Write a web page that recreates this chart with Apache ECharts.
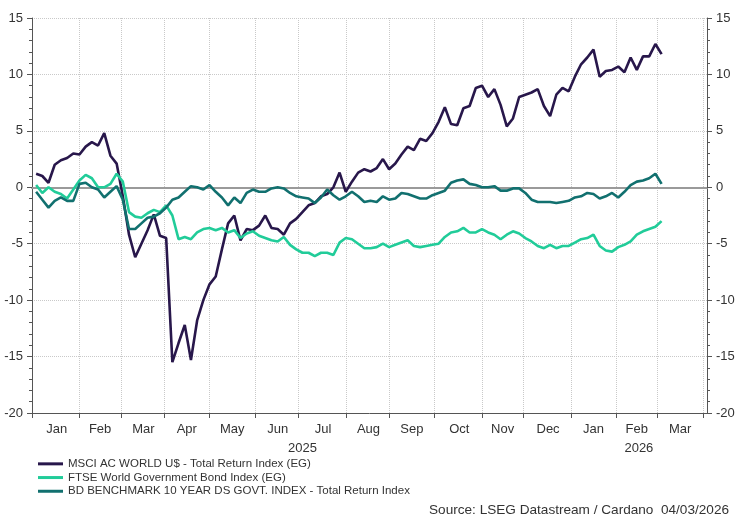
<!DOCTYPE html>
<html>
<head>
<meta charset="utf-8">
<title>MSCI ACWI vs government bonds, 2025-2026</title>
<script src="https://cdn.jsdelivr.net/npm/echarts@6/dist/echarts.min.js"></script>
<style>
  html, body { margin: 0; padding: 0; background: #fff; }
  #chart { width: 738px; height: 516px; }
</style>
</head>
<body>
<div id="chart"></div>
<script>
// x axis: every weekday from 1 Jan 2025 to 3 Apr 2026
const axisStart = '2025-01-01';
const axisEnd = '2026-04-03';
// readings were taken every 3rd weekday, starting at weekday no. 2 (3 Jan 2025)
const sampleStart = 2;
const sampleStep = 3;

const monthNames = ['Jan', 'Feb', 'Mar', 'Apr', 'May', 'Jun', 'Jul', 'Aug', 'Sep', 'Oct', 'Nov', 'Dec'];
const seriesNames = [
    'MSCI AC WORLD U$ - Total Return Index (EG)',
    'FTSE World Government Bond Index (EG)',
    'BD BENCHMARK 10 YEAR DS GOVT. INDEX - Total Return Index'
];
const seriesColors = ['#28174b', '#21cc99', '#11706f'];
const sourceText = 'Source: LSEG Datastream / Cardano  04/03/2026';

// % change since start of 2025
const msci = [
    1.2, 1.0, 0.4, 2.0, 2.4, 2.6, 3.0, 2.9, 3.6, 4.0,
    3.7, 4.8, 2.8, 2.1, -0.8, -4.2, -6.2, -5.0, -3.8, -2.4,
    -4.3, -4.5, -15.5, -13.8, -12.2, -15.3, -11.8, -10.0, -8.6, -7.9,
    -5.5, -3.2, -2.5, -4.7, -3.7, -3.8, -3.4, -2.5, -3.6, -3.7,
    -4.2, -3.2, -2.8, -2.2, -1.6, -1.4, -0.8, -0.6, 0.0, 1.3,
    -0.4, 0.5, 1.3, 1.6, 1.4, 1.7, 2.5, 1.6, 2.1, 2.9,
    3.6, 3.3, 4.3, 4.1, 4.8, 5.8, 7.1, 5.6, 5.5, 7.0,
    7.2, 8.8, 9.0, 8.0, 8.7, 7.3, 5.4, 6.1, 8.0, 8.2,
    8.4, 8.7, 7.2, 6.3, 8.2, 8.8, 8.5, 9.8, 10.9, 11.5,
    12.2, 9.8, 10.3, 10.4, 10.7, 10.2, 11.5, 10.4, 11.6, 11.6,
    12.7, 11.8
];
const ftse = [
    0.2, -0.5, 0.0, -0.4, -0.6, -1.0, -0.2, 0.6, 1.1, 0.8,
    0.0, 0.0, 0.3, 1.2, 0.5, -2.2, -2.6, -2.7, -2.3, -2.0,
    -2.2, -1.6, -2.5, -4.6, -4.4, -4.6, -4.0, -3.7, -3.6, -3.8,
    -3.6, -4.0, -3.8, -4.5, -4.1, -3.9, -4.3, -4.5, -4.7, -4.8,
    -4.4, -5.1, -5.5, -5.8, -5.8, -6.1, -5.8, -5.8, -6.0, -4.9,
    -4.5, -4.6, -5.0, -5.4, -5.4, -5.3, -5.0, -5.3, -5.1, -4.9,
    -4.7, -5.2, -5.3, -5.2, -5.1, -5.0, -4.4, -4.0, -3.9, -3.6,
    -4.0, -4.0, -3.7, -4.0, -4.2, -4.6, -4.2, -3.9, -4.1, -4.5,
    -4.8, -5.2, -5.4, -5.1, -5.4, -5.2, -5.2, -4.9, -4.6, -4.5,
    -4.2, -5.2, -5.6, -5.7, -5.3, -5.1, -4.8, -4.2, -3.9, -3.7,
    -3.5, -3.0
];
const bd = [
    -0.4, -1.1, -1.8, -1.2, -0.9, -1.2, -1.2, 0.3, 0.4, 0.0,
    -0.2, -0.9, -0.4, 0.1, -1.1, -3.7, -3.7, -3.2, -2.7, -2.6,
    -2.3, -1.8, -1.1, -0.9, -0.4, 0.1, 0.0, -0.2, 0.2, -0.4,
    -0.9, -1.6, -0.9, -1.4, -0.5, -0.2, -0.4, -0.4, -0.1, 0.0,
    -0.1, -0.5, -0.8, -0.9, -1.0, -1.4, -0.9, -0.2, -0.7, -1.1,
    -0.8, -0.4, -0.8, -1.3, -1.2, -1.3, -0.8, -1.1, -1.0, -0.5,
    -0.6, -0.8, -1.0, -1.0, -0.7, -0.5, -0.3, 0.4, 0.6, 0.7,
    0.3, 0.2, 0.0, 0.0, 0.1, -0.3, -0.3, -0.1, -0.1, -0.5,
    -1.1, -1.3, -1.3, -1.3, -1.4, -1.3, -1.2, -0.9, -0.8, -0.5,
    -0.6, -1.0, -0.8, -0.5, -0.9, -0.4, 0.2, 0.5, 0.6, 0.8,
    1.2, 0.3
];

// build the weekday calendar for the category axis
const days = [];
for (let d = new Date(axisStart + 'T00:00:00Z'); d <= new Date(axisEnd + 'T00:00:00Z'); d.setUTCDate(d.getUTCDate() + 1)) {
    const wd = d.getUTCDay();
    if (wd !== 0 && wd !== 6) days.push(d.toISOString().slice(0, 10));
}

// month boundaries (gridlines, ticks) and mid-month label slots
const monthStarts = [];
days.forEach((s, i) => {
    if (i === 0 || s.slice(0, 7) !== days[i - 1].slice(0, 7)) monthStarts.push(i);
});
const startSet = new Set(monthStarts);
const labelSet = new Set();
for (let m = 0; m < monthStarts.length - 1; m++) {
    labelSet.add(Math.round((monthStarts[m] + monthStarts[m + 1]) / 2));
}
// year labels centred on each year's stretch of the axis
const yearSet = new Set();
const firstOf2026 = days.indexOf('2026-01-01');
yearSet.add(Math.round(firstOf2026 / 2));
yearSet.add(Math.round((firstOf2026 + days.length - 1) / 2));

const toPoints = vals => vals.map((v, k) => [days[sampleStart + k * sampleStep], v]);

const font = '"Liberation Sans", Arial, sans-serif';
const textCol = '#333';
const axisCol = '#555';
const gridCol = '#c9c9c9';

const yAxisBase = {
    type: 'value', min: -20, max: 15, interval: 5,
    axisLine: { show: true, lineStyle: { color: axisCol } },
    axisTick: { show: true, length: 5, lineStyle: { color: axisCol } },
    minorTick: { show: true, splitNumber: 5, length: 3, lineStyle: { color: axisCol } },
    axisLabel: { color: textCol, fontSize: 13, fontFamily: font, margin: 9 }
};

const chart = echarts.init(document.getElementById('chart'));
chart.setOption({
    animation: false,
    textStyle: { fontFamily: font },
    grid: { left: 32, right: 31, top: 18, bottom: 103, outerBoundsMode: 'none' },
    legend: {
        data: seriesNames,
        orient: 'vertical',
        left: 33, top: 452.5,
        icon: 'rect', itemWidth: 25, itemHeight: 3, itemGap: 1,
        textStyle: { color: textCol, fontSize: 11.5, fontFamily: font, lineHeight: 12.7 }
    },
    graphic: [{
        type: 'text', right: 9, top: 503,
        style: { text: sourceText, fill: textCol, font: '13.6px ' + font }
    }],
    xAxis: [{
        type: 'category', data: days, boundaryGap: false,
        axisLine: { onZero: false, lineStyle: { color: axisCol } },
        axisTick: { show: true, length: 5, interval: i => startSet.has(i), lineStyle: { color: axisCol } },
        axisLabel: {
            interval: i => labelSet.has(i),
            formatter: v => monthNames[+v.slice(5, 7) - 1],
            color: textCol, fontSize: 13, margin: 10
        },
        splitLine: { show: true, interval: i => startSet.has(i), lineStyle: { color: gridCol, type: 'dotted' } }
    }, {
        // second row: years
        type: 'category', data: days, boundaryGap: false, position: 'bottom', offset: 19,
        axisLine: { show: false }, axisTick: { show: false }, splitLine: { show: false },
        axisLabel: {
            interval: i => yearSet.has(i),
            formatter: v => v.slice(0, 4),
            color: textCol, fontSize: 13, margin: 10
        }
    }, {
        // zero line
        type: 'category', data: days, boundaryGap: false,
        axisLine: { show: true, onZero: true, onZeroAxisIndex: 0, lineStyle: { color: '#9a9a9a', width: 2 } },
        axisTick: { show: false }, axisLabel: { show: false }, splitLine: { show: false }
    }],
    yAxis: [
        Object.assign({}, yAxisBase, {
            position: 'left',
            splitLine: { show: true, lineStyle: { color: gridCol, type: 'dotted' } }
        }),
        Object.assign({}, yAxisBase, {
            position: 'right',
            splitLine: { show: false }
        })
    ],
    series: [msci, ftse, bd].map((vals, i) => ({
        name: seriesNames[i],
        type: 'line',
        data: toPoints(vals),
        showSymbol: false,
        lineStyle: { width: 2.6, color: seriesColors[i] },
        itemStyle: { color: seriesColors[i] }
    }))
});
</script>
</body>
</html>
